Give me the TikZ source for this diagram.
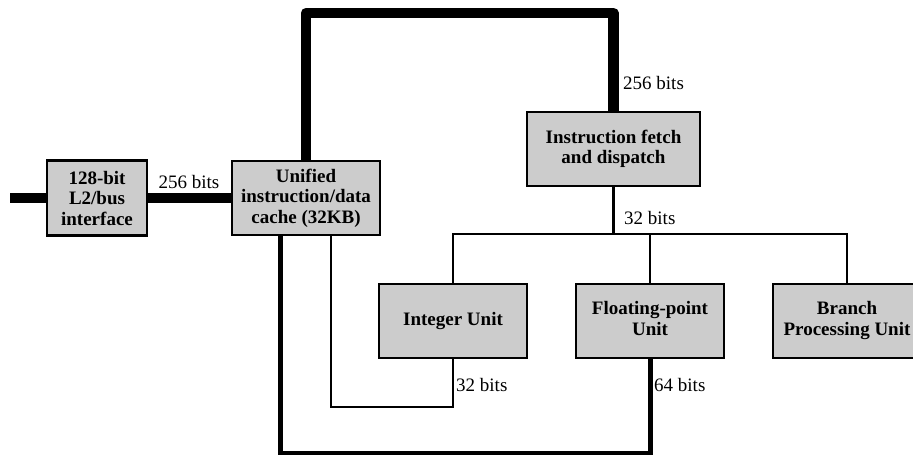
\documentclass[tikz,border=0pt]{standalone}
\usepackage{fontspec}
\setmainfont{Liberation Serif}
\definecolor{unitgray}{RGB}{204,204,204}
\newcommand{\lowerlines}[2]{\raisebox{#1}{\begin{tabular}{@{}c@{}}#2\end{tabular}}}
\tikzset{
  unit/.style={draw=black, line width=2.4pt, fill=unitgray, minimum width=148pt,
    minimum height=74pt, inner sep=0pt, align=center,
    font=\fontsize{19}{20.5}\selectfont\bfseries},
  bus/.style={line width=10.5pt, line join=round},
  widepath/.style={line width=5pt},
  wire/.style={line width=2.2pt},
  lbl/.style={font=\fontsize{19}{20}\selectfont, inner sep=0pt, anchor=west}
}
\begin{document}
\begin{tikzpicture}[x=1pt, y=-1pt]
  \clip (0,0) rectangle (913,455);
  \fill[white] (0,0) rectangle (913,455);

  % routing levels
  \coordinate (busin) at (10,198);
  \coordinate (toplevel) at (0,13);
  \coordinate (splitlevel) at (0,234);
  \coordinate (intlevel) at (0,407);
  \coordinate (fplevel) at (0,453);

  % functional units
  \node[unit, minimum width=100pt, minimum height=75pt] (l2) at (97,198) {128-bit\\L2/bus\\interface};
  \node[unit] (cache) at (306,198) {Unified\\instruction/data\\cache (32KB)};
  \node[unit, minimum width=173pt] (fetch) at (613.5,149) {Instruction fetch\\and dispatch};
  \node[unit] (int) at (453,321) {Integer Unit};
  \node[unit] (fp) at (650,321) {\lowerlines{-10pt}{Floating-point\\Unit}};
  \node[unit] (br) at (847,321) {\lowerlines{-3pt}{Branch\\Processing Unit}};

  % buses
  \draw[bus] (busin) -- (l2.west);
  \draw[bus] (l2.east) -- (cache.west);
  \draw[bus] (cache.north) |- (fetch.north |- toplevel) -- (fetch.north);

  % dispatch tree
  \draw[wire] (fetch.south) -- (fetch.south |- splitlevel);
  \draw[wire] (int.north) |- (br.north |- splitlevel) -- (br.north);
  \draw[wire] (fp.north) -- (fp.north |- splitlevel);

  % result paths back into the cache
  \draw[wire] ([xshift=25pt]cache.south) |- (int.south |- intlevel) -- (int.south);
  \draw[widepath] ([xshift=-26pt]cache.south) |- (fp.south |- fplevel) -- (fp.south);

  % width labels
  \node[lbl, anchor=center] (w1) at (189,182) {256 bits};
  \node[lbl] (w2) at (623,83) {256 bits};
  \node[lbl] (w3) at (624,218) {32 bits};
  \node[lbl] (w4) at (456,385) {32 bits};
  \node[lbl] (w5) at (654,385) {64 bits};
\end{tikzpicture}
\end{document}
